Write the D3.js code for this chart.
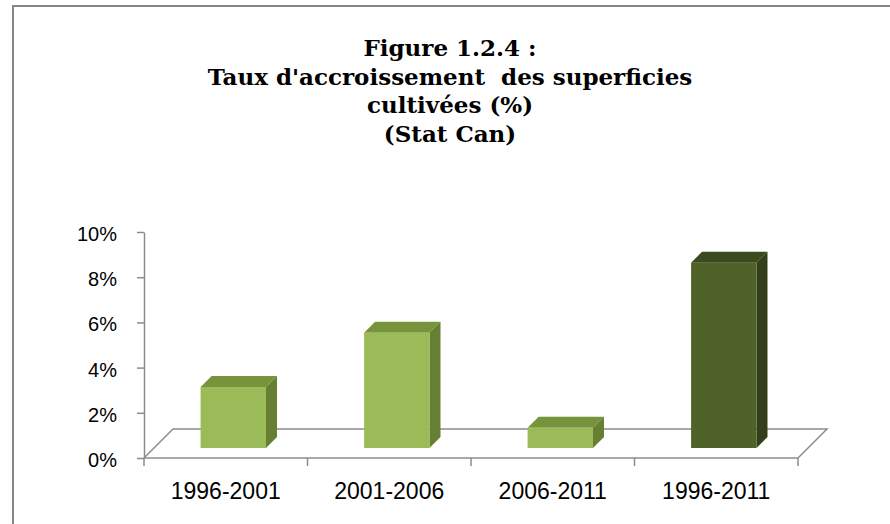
<!DOCTYPE html>
<html>
<head>
<meta charset="utf-8">
<script src="https://cdn.jsdelivr.net/npm/d3@7"></script>
<style>
  body { margin: 0; background: #fff; }
  svg { display: block; }
  .title text { white-space: pre; }
</style>
</head>
<body>
<div id="chart"></div>
<script>
// data
const categories = ["1996-2001", "2001-2006", "2006-2011", "1996-2011"];
const values = [0.027, 0.051, 0.009, 0.082];
const barShades = ["light", "light", "light", "dark"];
const yTicks = [0, 0.02, 0.04, 0.06, 0.08, 0.10];
const titleLines = ["Figure 1.2.4 :", "Taux d'accroissement  des superficies", "cultivées (%)", "(Stat Can)"];

const W = 890, H = 524;

const colors = {
  light: { front: "#9bbb59", top: "#77933c", side: "#667f33" },
  dark: { front: "#4f6228", top: "#3b4a1e", side: "#323f19" }
};

const svg = d3.select("#chart")
  .append("svg")
  .attr("width", W)
  .attr("height", H);

// outer frame (only top and left visible)
svg.append("rect")
  .attr("x", 13)
  .attr("y", 6)
  .attr("width", W + 20)
  .attr("height", H + 20)
  .attr("fill", "none")
  .attr("stroke", "#868686")
  .attr("stroke-width", 2);

// scales
const x = d3.scaleBand()
  .domain(categories)
  .range([144, 798]);

const y = d3.scaleLinear()
  .domain([0, 0.1])
  .range([458, 232]);

const floorDepth = 29;   // 3d floor depth
const barFront = 10;     // bar front face offset into the floor
const barDepth = 11;     // bar thickness
const bw = x.bandwidth();

// floor
const [x0, x1] = x.range();
const y0 = y(0);
svg.append("path")
  .attr("d", `M${x0},${y0} L${x0 + floorDepth},${y0 - floorDepth} L${x1 + floorDepth},${y0 - floorDepth} L${x1},${y0}`)
  .attr("fill", "none")
  .attr("stroke", "#8c8c8c")
  .attr("stroke-width", 1.5);

// bars
const bars = svg.append("g");
categories.forEach(function (c, i) {
  const c3 = colors[barShades[i]];
  const left = x(c) + bw * 0.285 + barFront;
  const right = left + bw * 0.4;
  const bottom = y(0) - barFront;
  const top = y(values[i]) - barFront;
  const d = barDepth;

  // top face
  bars.append("path")
    .attr("d", `M${left},${top} L${left + d},${top - d} L${right + d},${top - d} L${right},${top} Z`)
    .attr("fill", c3.top);
  // side face
  bars.append("path")
    .attr("d", `M${right},${top} L${right + d},${top - d} L${right + d},${bottom - d} L${right},${bottom} Z`)
    .attr("fill", c3.side);
  // front face
  bars.append("rect")
    .attr("x", left)
    .attr("y", top)
    .attr("width", right - left)
    .attr("height", bottom - top)
    .attr("fill", c3.front);
});

// y axis
const yAxis = svg.append("g")
  .attr("transform", `translate(${x0},0)`)
  .call(d3.axisLeft(y)
    .tickValues(yTicks)
    .tickFormat(d3.format(".0%"))
    .tickSize(7)
    .tickSizeOuter(0)
    .tickPadding(20));
yAxis.selectAll("path, line")
  .attr("stroke", "#8c8c8c")
  .attr("stroke-width", 1.5);
yAxis.selectAll("text")
  .attr("fill", "#000")
  .attr("dy", "0.42em")
  .style("font-family", "'Liberation Sans', Arial, sans-serif")
  .style("font-size", "20px");

// x axis line + boundary ticks
const xAxis = svg.append("g");
xAxis.append("line")
  .attr("x1", x0).attr("x2", x1)
  .attr("y1", y0).attr("y2", y0)
  .attr("stroke", "#8c8c8c")
  .attr("stroke-width", 1.5);
const bounds = categories.map(c => x(c)).concat([x1]);
xAxis.selectAll(".bt")
  .data(bounds)
  .join("line")
  .attr("x1", d => d).attr("x2", d => d)
  .attr("y1", y0).attr("y2", y0 + 8)
  .attr("stroke", "#8c8c8c")
  .attr("stroke-width", 1.5);
xAxis.selectAll(".lbl")
  .data(categories)
  .join("text")
  .attr("x", d => x(d) + bw / 2)
  .attr("y", 499)
  .attr("text-anchor", "middle")
  .style("font-family", "'Liberation Sans', Arial, sans-serif")
  .style("font-size", "23px")
  .text(d => d);

// title
const title = svg.append("g")
  .attr("class", "title")
  .style("font-family", "'DejaVu Serif', 'Liberation Serif', serif")
  .style("font-weight", "bold")
  .style("font-size", "23px");
title.selectAll("text")
  .data(titleLines)
  .join("text")
  .attr("xml:space", "preserve")
  .attr("x", 450)
  .attr("y", (d, i) => 56 + i * 28.7)
  .attr("text-anchor", "middle")
  .text(d => d);
</script>
</body>
</html>
